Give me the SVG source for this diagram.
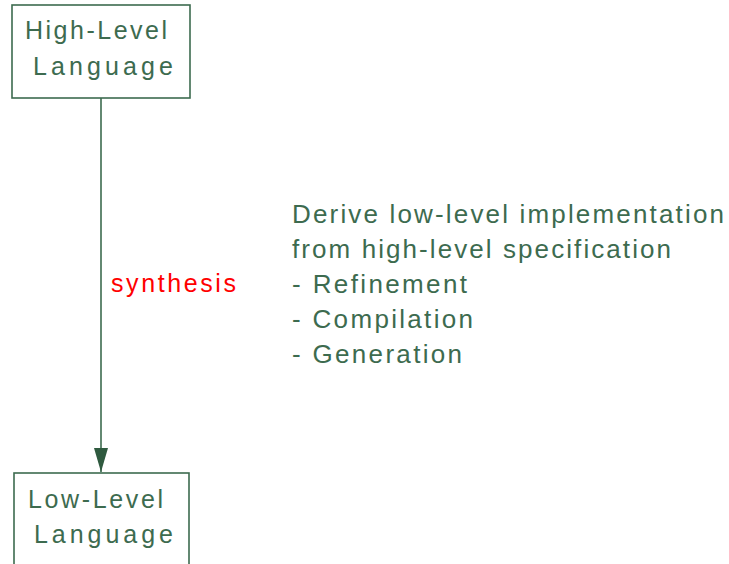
<svg xmlns="http://www.w3.org/2000/svg" width="729" height="564" viewBox="0 0 729 564">
  <style>
    .box { fill: #ffffff; stroke: #3d6b4f; stroke-width: 1.6; }
    .lbl { font-family: "Liberation Sans", Arial, sans-serif; font-size: 25px; fill: #3d6b4f; }
    .note { font-family: "Liberation Sans", Arial, sans-serif; font-size: 26px; fill: #3d6b4f; }
    .edge { font-family: "Liberation Sans", Arial, sans-serif; font-size: 25px; fill: #ff0000; }
    .conn { stroke: #3d6b4f; stroke-width: 1.6; fill: none; }
  </style>
  <defs>
    <marker id="arrow" markerUnits="userSpaceOnUse" markerWidth="26" markerHeight="16" refX="25" refY="8" orient="auto" viewBox="0 0 26 16">
      <path d="M1,1 L25,8 L1,15 Z" fill="#2f5a3f"/>
    </marker>
  </defs>
  <rect width="729" height="564" fill="#ffffff"/>

  <g id="high-level">
    <rect class="box" x="12" y="5" width="178" height="93"/>
    <text class="lbl" x="25" y="39" textLength="142" lengthAdjust="spacing">High-Level</text>
    <text class="lbl" x="33" y="75" textLength="140" lengthAdjust="spacing">Language</text>
  </g>

  <g id="low-level">
    <rect class="box" x="14" y="473" width="175" height="100"/>
    <text class="lbl" x="28" y="508" textLength="135" lengthAdjust="spacing">Low-Level</text>
    <text class="lbl" x="34" y="543" textLength="139" lengthAdjust="spacing">Language</text>
  </g>

  <g id="connectors">
    <line class="conn" x1="101" y1="98" x2="101" y2="472" marker-end="url(#arrow)"/>
    <text class="edge" x="111" y="292" textLength="125" lengthAdjust="spacing">synthesis</text>
  </g>

  <g id="description">
    <text class="note" x="292" y="223" textLength="432" lengthAdjust="spacing">Derive low-level implementation</text>
    <text class="note" x="292" y="258" textLength="379" lengthAdjust="spacing">from high-level specification</text>
    <text class="note" x="292" y="293" textLength="175" lengthAdjust="spacing">- Refinement</text>
    <text class="note" x="292" y="328" textLength="181" lengthAdjust="spacing">- Compilation</text>
    <text class="note" x="292" y="363" textLength="170" lengthAdjust="spacing">- Generation</text>
  </g>
</svg>
